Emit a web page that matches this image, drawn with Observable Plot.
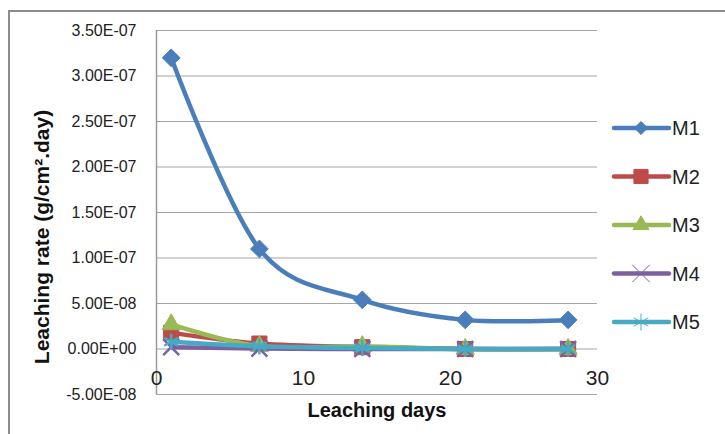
<!DOCTYPE html>
<html><head><meta charset="utf-8">
<script src="https://cdn.jsdelivr.net/npm/d3@7"></script>
<script src="https://cdn.jsdelivr.net/npm/@observablehq/plot@0.6"></script>
<style>
body{margin:0;overflow:hidden;background:#fff;}
#wrap{position:relative;width:725px;height:434px;overflow:hidden;}
#frame{position:absolute;left:8px;top:10px;width:800px;height:500px;border:2px solid #8c8c8c;box-sizing:border-box;}
#wrap svg{position:absolute;left:0;top:0;}
</style></head><body><div id="wrap"><div id="frame"></div></div>
<script>
const days = [1, 7, 14, 21, 28];
const seriesNames = ["M1", "M2", "M3", "M4", "M5"];
const m1 = [3.2e-7, 1.1e-7, 5.4e-8, 3.2e-8, 3.2e-8];
const m2 = [1.8e-8, 6e-9, 2e-9, 0, 0];
const m3 = [2.7e-8, 3e-9, 3e-9, 0, 0];
const m4 = [2e-9, 5e-10, 0, 0, 0];
const m5 = [8e-9, 3e-9, 1e-9, 0, 0];
const yTicks = [-5e-8, 0, 5e-8, 1e-7, 1.5e-7, 2e-7, 2.5e-7, 3e-7, 3.5e-7];
const xTicks = [0, 10, 20, 30];
const xTitle = "Leaching days";
const yTitle = "Leaching rate (g/cm\u00B2.day)";

const colors = ["#4a7ebb", "#be4b48", "#98b954", "#7d60a0", "#46aac5"];
const symbols = ["diamond2", "square", "triangle", "times", "asterisk"];
const filled = [true, true, true, false, false];
const radii = [8, 8.5, 6.8, 7.3, 7.6];

const allSeries = [m1, m2, m3, m4, m5];
const rows = seriesNames.flatMap((name, i) => days.map((d, j) => ({series: name, day: d, value: allSeries[i][j]})));

function excelExp(v) {
  const s = v.toExponential(2);
  const [mant, ex] = s.split("e");
  const e = parseInt(ex, 10);
  return mant + "E" + (e < 0 ? "-" : "+") + String(Math.abs(e)).padStart(2, "0");
}

const font = "'Liberation Sans', Arial, sans-serif";

const marks = [
  Plot.gridY(yTicks, {stroke: "#a6a6a6", strokeOpacity: 1, strokeWidth: 1.2}),
  Plot.ruleX([0], {y1: yTicks[0], y2: yTicks[yTicks.length - 1], stroke: "#9a9a9a", strokeWidth: 1.5}),
  Plot.axisY(yTicks, {tickSize: 0, tickPadding: 20, tickFormat: excelExp, fontSize: 16, fill: "#222", label: null}),
  Plot.text(xTicks, {x: d => d, frameAnchor: "bottom", dy: -9.5, text: d => String(d), fontSize: 21, fill: "#222"}),
  Plot.text([xTitle], {frameAnchor: "bottom", dy: 22, text: d => d, fontSize: 20, fontWeight: "bold", fill: "#111"})
];
seriesNames.forEach((name, i) => {
  const data = rows.filter(r => r.series === name);
  marks.push(Plot.line(data, {x: "day", y: "value", stroke: colors[i], strokeWidth: 4.5, curve: "cardinal"}));
  if (filled[i]) {
    marks.push(Plot.dot(data, {x: "day", y: "value", symbol: symbols[i], r: radii[i], fill: colors[i], stroke: colors[i], strokeWidth: 1}));
  } else {
    marks.push(Plot.dot(data, {x: "day", y: "value", symbol: symbols[i], r: radii[i], fill: "none", stroke: colors[i], strokeWidth: 2.5}));
  }
});

const chart = Plot.plot({
  width: 725,
  height: 434,
  marginLeft: 156,
  marginRight: 128,
  marginTop: 30,
  marginBottom: 40,
  style: {fontFamily: font, background: "transparent", overflow: "visible"},
  x: {domain: [0, 30], axis: null},
  y: {domain: [yTicks[0], yTicks[yTicks.length - 1]], axis: null},
  marks
});
document.getElementById("wrap").appendChild(chart);

const svg = d3.select(chart);

// y-axis title
svg.append("text")
  .attr("transform", "translate(42,237) rotate(-90)")
  .attr("text-anchor", "middle").attr("dy", "0.35em")
  .attr("font-family", font).attr("font-size", 21).attr("font-weight", "bold").attr("fill", "#111")
  .text(yTitle);

// legend
const lg = svg.append("g").attr("font-family", font);
const symMap = {diamond2: d3.symbolDiamond2, square: d3.symbolSquare, triangle: d3.symbolTriangle, times: d3.symbolTimes, asterisk: d3.symbolAsterisk};
const legSizes = [110, 200, 110, 200, 200];
seriesNames.forEach((name, i) => {
  const y = 128 + i * 48.5;
  const g = lg.append("g").attr("transform", `translate(0,${y})`);
  g.append("line").attr("x1", 614).attr("x2", 669).attr("y1", 0).attr("y2", 0)
    .attr("stroke", colors[i]).attr("stroke-width", 4.5).attr("stroke-linecap", "round");
  g.append("path").attr("transform", "translate(641,0)")
    .attr("d", d3.symbol(symMap[symbols[i]], legSizes[i])())
    .attr("fill", filled[i] ? colors[i] : "none")
    .attr("stroke", colors[i]).attr("stroke-width", 1);
  g.append("text").attr("x", 672).attr("y", 0).attr("dy", "0.35em")
    .attr("text-anchor", "start")
    .attr("font-size", 20).attr("fill", "#222").text(name);
});
</script></body></html>
